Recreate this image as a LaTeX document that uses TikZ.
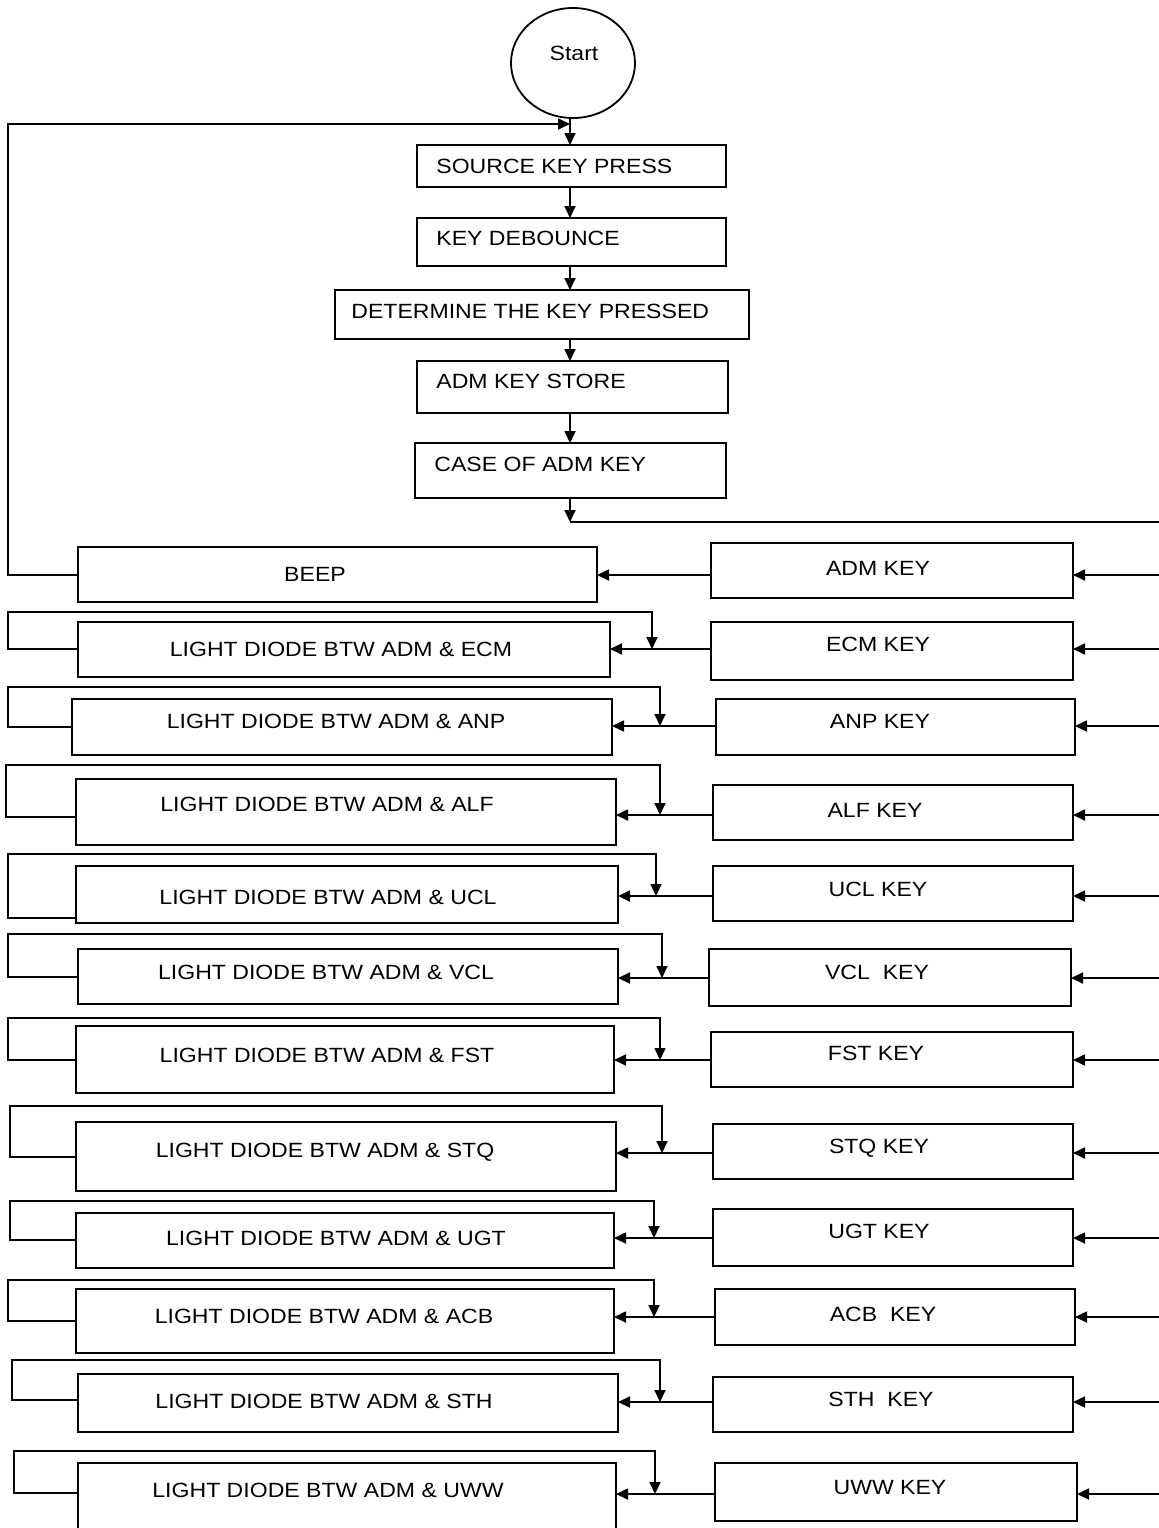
\documentclass[tikz,border=0pt]{standalone}
\usepackage{fontspec}
\setmainfont{Liberation Sans}[FakeStretch=1.12]
\usetikzlibrary{arrows.meta,shapes.geometric}
\begin{document}
\begin{tikzpicture}[x=0.5pt,y=-0.5pt,
  box/.style={draw,line width=1pt,inner sep=0pt,outer sep=0pt},
  txt/.style={inner sep=0pt,text height=7.4pt,text depth=0pt,font=\fontsize{10.3}{12}\selectfont},
  conn/.style={line width=0.85pt},
  arr/.style={conn,-{Triangle[length=6pt,width=5.5pt]}}]
\useasboundingbox (0,0) rectangle (1159,1528);
\clip (0,0) rectangle (1159,1528);
% top column
\node[draw,ellipse,line width=0.9pt,minimum width=62pt,minimum height=55pt,inner sep=0pt] (start) at (573,63) {};
\node[txt] (tstart) at (574,53) {Start};
\newcommand{\mybox}[5]{\node[box,minimum width={(#4-#2)*0.5pt},minimum height={(#5-#3)*0.5pt}] (#1) at ({(#2+#4)/2},{(#3+#5)/2}) {};}
\mybox{src}{417}{145}{726}{187}
\mybox{deb}{417}{218}{726}{266}
\mybox{det}{335}{290}{749}{339}
\mybox{sto}{417}{361}{728}{413}
\mybox{case}{415}{443}{726}{498}
\node[txt,anchor=west] (tsrc) at (436,166) {SOURCE KEY PRESS};
\node[txt,anchor=west] (tdeb) at (436,238) {KEY DEBOUNCE};
\node[txt,anchor=west] (tdet) at (351,311) {DETERMINE THE KEY PRESSED};
\node[txt,anchor=west] (tsto) at (436,381) {ADM KEY STORE};
\node[txt,anchor=west] (tcase) at (434,464) {CASE OF ADM KEY};
\coordinate (j) at (570,124);
\coordinate (bus) at (570,522);
\draw[arr] (start.south -| j) -- (j |- src.north);
\draw[arr] (src.south -| j) -- (j |- deb.north);
\draw[arr] (deb.south -| j) -- (j |- det.north);
\draw[arr] (det.south -| j) -- (j |- sto.north);
\draw[arr] (sto.south -| j) -- (j |- case.north);
\draw[arr] (case.south -| bus) -- (bus);
\draw[conn] (bus) -- (1159,522);
% BEEP / ADM row
\mybox{beep}{78}{547}{597}{602}
\mybox{kADM}{711}{543}{1073}{598}
\node[txt] (tbeep) at (315,574) {BEEP};
\node[txt] (tkADM) at (878,568) {ADM KEY};
\coordinate (jADM) at (700,575);
\draw[arr] (kADM.west |- jADM) -- (beep.east |- jADM);
\draw[arr] (beep.west |- jADM) -- (8,575) |- (j);
\draw[arr] (1159,575) -- (kADM.east |- jADM);
% diode rows
\foreach \n/\dxa/\dya/\dxb/\dyb/\kxa/\kya/\kxb/\kyb/\L/\X/\T/\A/\C/\dt/\tx/\ty/\kt/\kx/\ky in {
 ECM/78/622/610/677/711/622/1073/680/649/8/612/652/649/{LIGHT DIODE BTW ADM \& ECM}/341/649/{ECM KEY}/878/644,
 ANP/72/699/612/755/716/699/1075/755/726/8/687/660/727/{LIGHT DIODE BTW ADM \& ANP}/336/721/{ANP KEY}/880/721,
 ALF/76/779/616/845/713/785/1073/840/815/6/765/660/817/{LIGHT DIODE BTW ADM \& ALF}/327/804/{ALF KEY}/875/810,
 UCL/76/866/618/923/713/866/1073/921/896/8/854/656/918/{LIGHT DIODE BTW ADM \& UCL}/328/897/{UCL KEY}/878/889,
 VCL/78/949/618/1004/709/949/1071/1006/978/8/934/662/977/{LIGHT DIODE BTW ADM \& VCL}/326/972/{VCL\ \ KEY}/877/972,
 FST/76/1026/614/1093/711/1032/1073/1087/1060/8/1018/660/1060/{LIGHT DIODE BTW ADM \& FST}/327/1055/{FST KEY}/876/1053,
 STQ/76/1122/616/1191/713/1124/1073/1179/1153/10/1106/662/1157/{LIGHT DIODE BTW ADM \& STQ}/325/1150/{STQ KEY}/879/1146,
 UGT/76/1213/614/1268/713/1209/1073/1266/1238/10/1201/654/1240/{LIGHT DIODE BTW ADM \& UGT}/336/1238/{UGT KEY}/879/1231,
 ACB/76/1289/614/1353/715/1289/1075/1345/1317/8/1280/654/1321/{LIGHT DIODE BTW ADM \& ACB}/324/1316/{ACB\ \ KEY}/883/1314,
 STH/78/1374/618/1432/713/1377/1073/1432/1402/12/1360/660/1400/{LIGHT DIODE BTW ADM \& STH}/324/1401/{STH\ \ KEY}/881/1399,
 UWW/78/1463/616/1545/715/1463/1077/1521/1494/14/1451/655/1493/{LIGHT DIODE BTW ADM \& UWW}/328/1490/{UWW KEY}/890/1487}
{
 \node[box,minimum width={(\dxb-\dxa)*0.5pt},minimum height={(\dyb-\dya)*0.5pt}] (d\n) at ({(\dxa+\dxb)/2},{(\dya+\dyb)/2}) {};
 \node[box,minimum width={(\kxb-\kxa)*0.5pt},minimum height={(\kyb-\kya)*0.5pt}] (k\n) at ({(\kxa+\kxb)/2},{(\kya+\kyb)/2}) {};
 \node[txt] (td\n) at (\tx,\ty) {\dt};
 \node[txt] (tk\n) at (\kx,\ky) {\kt};
 \coordinate (j\n) at (\A,\L);
 \draw[arr] (k\n.west |- j\n) -- (d\n.east |- j\n);
 \draw[arr] (d\n.west |- 0,\C) -- (\X,\C) |- (\A,\T) -- (j\n);
 \draw[arr] (1159,\L) -- (k\n.east |- j\n);
}
\end{tikzpicture}
\end{document}
